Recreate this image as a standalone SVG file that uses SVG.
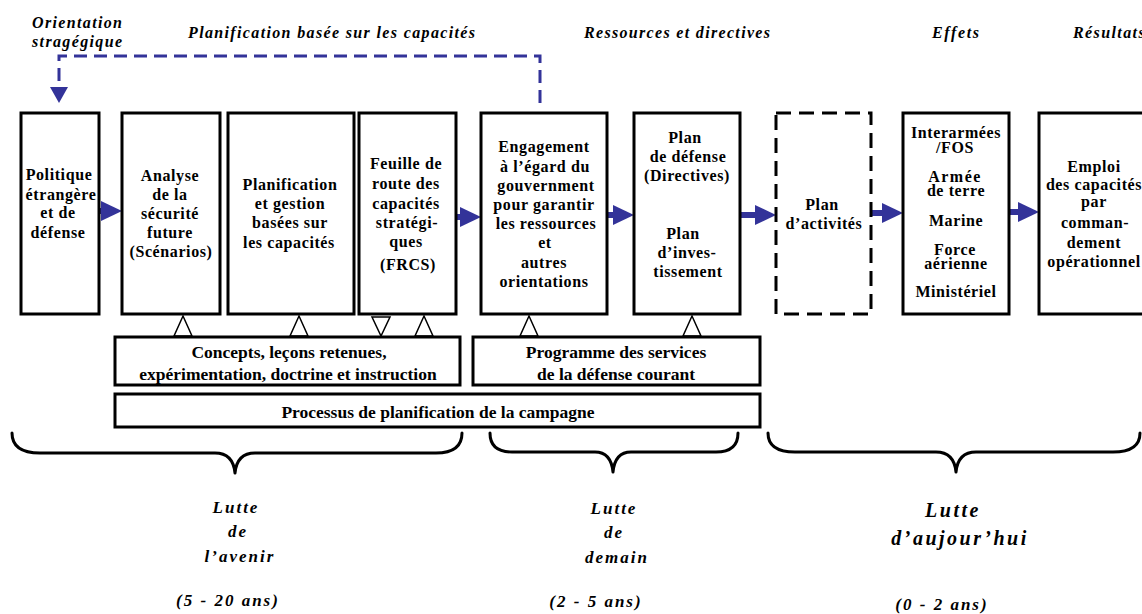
<svg xmlns="http://www.w3.org/2000/svg" width="1142" height="614" viewBox="0 0 1142 614">
<style>
.box{fill:#fff;stroke:#000;stroke-width:3}
.dbox{fill:#fff;stroke:#000;stroke-width:3;stroke-dasharray:15 8}
.t{font-family:"Liberation Serif","Times New Roman",serif;font-weight:bold;font-size:16px;letter-spacing:0.6px;text-anchor:middle;fill:#000}
.tb{font-family:"Liberation Serif","Times New Roman",serif;font-weight:bold;font-size:17.5px;text-anchor:middle;fill:#000}
.hd{font-family:"Liberation Serif","Times New Roman",serif;font-weight:bold;font-style:italic;font-size:16px;fill:#000}
.lt{font-family:"Liberation Serif","Times New Roman",serif;font-weight:bold;font-style:italic;font-size:17px;letter-spacing:2px;text-anchor:middle;fill:#000}
.lt2{font-family:"Liberation Serif","Times New Roman",serif;font-weight:bold;font-style:italic;font-size:20px;letter-spacing:2.5px;text-anchor:middle;fill:#000}
.arr{stroke:#333399;stroke-width:6;fill:none;marker-end:url(#ah)}
.tri{fill:#fff;stroke:#000;stroke-width:1.5}
.brace{fill:none;stroke:#000;stroke-width:3;stroke-linecap:round;stroke-linejoin:round}
</style>
<defs>
<marker id="ah" markerUnits="userSpaceOnUse" markerWidth="22" markerHeight="20" refX="6" refY="10" orient="auto">
<path d="M0,0 L21,10 L0,20 z" fill="#333399"/>
</marker>
</defs>
<rect width="1142" height="614" fill="#fff"/>

<g id="headings">
<text class="hd" x="32" y="28" textLength="90">Orientation</text>
<text class="hd" x="32" y="47" textLength="90">stragégique</text>
<text class="hd" x="188" y="38" textLength="287">Planification basée sur les capacités</text>
<text class="hd" x="584" y="38" textLength="186">Ressources et directives</text>
<text class="hd" x="932" y="38" textLength="47">Effets</text>
<text class="hd" x="1073" y="38" letter-spacing="1.4">Résultats</text>
</g>

<g id="connectors">
<path d="M540,103 L540,56 L59,56 L59,86" fill="none" stroke="#333399" stroke-width="3" stroke-dasharray="13 7"/>
<polygon points="50,87 68,87 59,103" fill="#333399"/>
<line class="arr" x1="99" y1="211" x2="107" y2="211"/>
<line class="arr" x1="456" y1="217" x2="466" y2="217"/>
<line class="arr" x1="607" y1="215" x2="619" y2="215"/>
<line class="arr" x1="740" y1="215" x2="761" y2="215"/>
<line class="arr" x1="871" y1="213" x2="888" y2="213"/>
<line class="arr" x1="1009" y1="212" x2="1024" y2="212"/>
<polygon class="tri" points="174,336 192,336 183,316"/>
<polygon class="tri" points="290,336 308,336 299,316"/>
<polygon class="tri" points="372,317 390,317 381,336"/>
<polygon class="tri" points="415,336 433,336 424,316"/>
<polygon class="tri" points="520,336 538,336 529,316"/>
<polygon class="tri" points="683,336 701,336 692,316"/>
</g>

<g id="n1">
<rect class="box" x="21" y="113" width="78" height="201"/>
<text class="t" x="59" y="180">Politique</text>
<text class="t" x="61" y="200">étrangère</text>
<text class="t" x="58" y="218">et de</text>
<text class="t" x="58" y="238">défense</text>
</g>
<g id="n2">
<rect class="box" x="122" y="113" width="98" height="201"/>
<text class="t" x="170" y="181">Analyse</text>
<text class="t" x="170" y="200">de la</text>
<text class="t" x="170" y="219">sécurité</text>
<text class="t" x="170" y="238">future</text>
<text class="t" x="171" y="257">(Scénarios)</text>
</g>
<g id="n3">
<rect class="box" x="228" y="113" width="126" height="201"/>
<text class="t" x="290" y="190">Planification</text>
<text class="t" x="290" y="209">et gestion</text>
<text class="t" x="290" y="228">basées sur</text>
<text class="t" x="289" y="248">les capacités</text>
</g>
<g id="n4">
<rect class="box" x="359" y="113" width="97" height="201"/>
<text class="t" x="406" y="169">Feuille de</text>
<text class="t" x="406" y="189">route des</text>
<text class="t" x="406" y="209">capacités</text>
<text class="t" x="407" y="228">stratégi-</text>
<text class="t" x="406" y="247">ques</text>
<text class="t" x="408" y="270" font-size="18">(FRCS)</text>
</g>
<g id="n5">
<rect class="box" x="481" y="113" width="126" height="201"/>
<text class="t" x="544" y="152">Engagement</text>
<text class="t" x="545" y="172">à l’égard du</text>
<text class="t" x="546" y="191">gouvernment</text>
<text class="t" x="544" y="210">pour garantir</text>
<text class="t" x="546" y="229">les ressources</text>
<text class="t" x="545" y="248">et</text>
<text class="t" x="544" y="268">autres</text>
<text class="t" x="544" y="287">orientations</text>
</g>
<g id="n6">
<rect class="box" x="634" y="113" width="106" height="201"/>
<text class="t" x="685" y="143">Plan</text>
<text class="t" x="688" y="162">de défense</text>
<text class="t" x="687" y="181">(Directives)</text>
<text class="t" x="683" y="239">Plan</text>
<text class="t" x="687" y="258">d’inves-</text>
<text class="t" x="688" y="277">tissement</text>
</g>
<g id="n7">
<rect class="dbox" x="776" y="113" width="95" height="201"/>
<text class="t" x="822" y="210">Plan</text>
<text class="t" x="824" y="229">d’activités</text>
</g>
<g id="n8">
<rect class="box" x="903" y="113" width="106" height="201"/>
<text class="t"><tspan x="956" y="138">Interarmées</tspan><tspan x="955" y="153">/FOS</tspan></text>
<text class="t"><tspan x="955" y="182" letter-spacing="1.5">Armée</tspan><tspan x="956" y="196">de terre</tspan></text>
<text class="t" x="956" y="226" letter-spacing="1.2">Marine</text>
<text class="t"><tspan x="955" y="255">Force</tspan><tspan x="956" y="269">aérienne</tspan></text>
<text class="t" x="956" y="297">Ministériel</text>
</g>
<g id="n9">
<rect class="box" x="1039" y="113" width="112" height="201"/>
<text class="t" x="1094" y="172" letter-spacing="1.2">Emploi</text>
<text class="t" x="1094" y="190">des capacités</text>
<text class="t" x="1094" y="207" letter-spacing="1.2">par</text>
<text class="t" x="1095" y="228" letter-spacing="1.2">comman-</text>
<text class="t" x="1094" y="248" letter-spacing="1.2">dement</text>
<text class="t" x="1094" y="267">opérationnel</text>
</g>
<g id="n10">
<rect class="box" x="115" y="337" width="345" height="48"/>
<text class="tb" x="289" y="358">Concepts, leçons retenues,</text>
<text class="tb" x="288" y="380">expérimentation, doctrine et instruction</text>
</g>
<g id="n11">
<rect class="box" x="473" y="337" width="287" height="48"/>
<text class="tb" x="616" y="358">Programme des services</text>
<text class="tb" x="616" y="380">de la défense courant</text>
</g>
<g id="n12">
<rect class="box" x="115" y="394" width="645" height="33"/>
<text class="tb" x="438" y="418">Processus de planification de la campagne</text>
</g>

<g id="braces">
<path class="brace" d="M12,433 Q12,453 40,453 L215,453 Q233,453 235,473 Q237,453 255,453 L436,453 Q462,453 462,433"/>
<path class="brace" d="M490,433 Q490,452 512,452 L595,452 Q611,452 613,472 Q615,452 631,452 L716,452 Q738,452 738,433"/>
<path class="brace" d="M768,433 Q768,452 795,452 L936,452 Q954,452 956,472 Q958,452 976,452 L1113,452 Q1140,452 1140,433"/>
</g>

<g id="periods">
<text class="lt" x="236" y="513">Lutte</text>
<text class="lt" x="238" y="537">de</text>
<text class="lt" x="240" y="562">l’avenir</text>
<text class="lt" x="228" y="606">(5 - 20 ans)</text>
<text class="lt" x="614" y="514">Lutte</text>
<text class="lt" x="614" y="538">de</text>
<text class="lt" x="617" y="563">demain</text>
<text class="lt" x="596" y="607">(2 - 5 ans)</text>
<text class="lt2" x="953" y="517">Lutte</text>
<text class="lt2" x="960" y="545">d’aujour’hui</text>
<text class="lt" x="942" y="610">(0 - 2 ans)</text>
</g>
</svg>
